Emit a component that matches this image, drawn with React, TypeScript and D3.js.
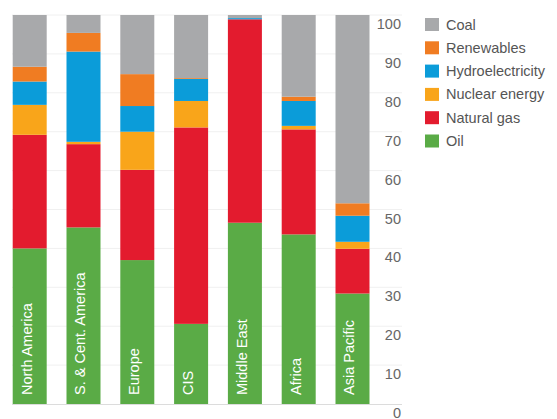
import React, { useEffect, useRef } from 'react';
import * as d3 from 'd3';

const regions = ['North America', 'S. & Cent. America', 'Europe', 'CIS', 'Middle East', 'Africa', 'Asia Pacific'];
const fuels = ['Oil', 'Natural gas', 'Nuclear energy', 'Hydroelectricity', 'Renewables', 'Coal'];

// share of primary energy consumption, % (bottom to top)
const oil = [40.0, 45.4, 37.0, 20.6, 46.6, 43.6, 28.4];
const naturalGas = [29.2, 21.4, 23.2, 50.5, 52.3, 27.0, 11.5];
const nuclear = [7.7, 0.6, 9.8, 6.8, 0.0, 0.9, 1.8];
const hydro = [6.0, 23.2, 6.6, 5.7, 0.3, 6.4, 6.7];
const renewables = [3.8, 4.8, 8.2, 0.2, 0.0, 1.1, 3.2];
const coal = [13.3, 4.6, 15.2, 16.2, 0.8, 21.0, 48.4];

const yTicks = [0, 10, 20, 30, 40, 50, 60, 70, 80, 90, 100];
const legendOrder = ['Coal', 'Renewables', 'Hydroelectricity', 'Nuclear energy', 'Natural gas', 'Oil'];

const colors: Record<string, string> = {
  'Oil': '#5aab46',
  'Natural gas': '#e31b2e',
  'Nuclear energy': '#f9a51a',
  'Hydroelectricity': '#0b9cd9',
  'Renewables': '#f07c22',
  'Coal': '#a8a9ab',
};

export default function App() {
  const svgRef = useRef<SVGSVGElement>(null);
  const width = 557;
  const height = 419;

  useEffect(() => {
    if (!svgRef.current) return;
    const svg = d3.select(svgRef.current);
    svg.selectAll('*').remove();

    const series = [oil, naturalGas, nuclear, hydro, renewables, coal];
    const table = regions.map((r, i) => {
      const row: any = { region: r };
      fuels.forEach((f, j) => (row[f] = series[j][i]));
      return row;
    });

    const stacked = d3.stack<any>().keys(fuels)(table);

    const x = d3.scaleBand()
      .domain(regions)
      .range([2.8, 379.4])
      .paddingInner(0.368)
      .paddingOuter(0.184);

    const y = d3.scaleLinear().domain([0, 100]).range([404, 15]);

    const font = '"Liberation Sans", Arial, sans-serif';

    // Grid lines
    svg.append('g')
      .selectAll('line')
      .data(yTicks.filter(t => t > 0))
      .enter()
      .append('line')
      .attr('x1', 12)
      .attr('x2', 402)
      .attr('y1', d => y(d))
      .attr('y2', d => y(d))
      .attr('stroke', '#f0f0f0')
      .attr('stroke-width', 1);

    // Bars
    svg.append('g')
      .selectAll('g')
      .data(stacked)
      .enter()
      .append('g')
      .attr('fill', d => colors[d.key])
      .selectAll('rect')
      .data(d => d)
      .enter()
      .append('rect')
      .attr('x', d => x(d.data.region) || 0)
      .attr('width', x.bandwidth())
      .attr('y', d => y(d[1]))
      .attr('height', d => Math.max(0, y(d[0]) - y(d[1])));

    // Baseline
    svg.append('line')
      .attr('x1', 12)
      .attr('x2', 402)
      .attr('y1', y(0) + 0.5)
      .attr('y2', y(0) + 0.5)
      .attr('stroke', '#dcdcdc');

    // Region labels inside bars
    svg.append('g')
      .selectAll('text')
      .data(regions)
      .enter()
      .append('text')
      .attr('transform', d => `translate(${(x(d) || 0) + 19},395) rotate(-90)`)
      .attr('fill', '#ffffff')
      .attr('font-family', font)
      .attr('font-size', 14.5)
      .text(d => d);

    // Y tick labels (hang below their line)
    svg.append('g')
      .selectAll('text')
      .data(yTicks)
      .enter()
      .append('text')
      .attr('x', 401)
      .attr('y', d => y(d) + 14)
      .attr('text-anchor', 'end')
      .attr('fill', '#666666')
      .attr('font-family', font)
      .attr('font-size', 14.5)
      .text(d => d);

    // Legend
    const legend = svg.append('g')
      .selectAll('g')
      .data(legendOrder)
      .enter()
      .append('g')
      .attr('transform', (d, i) => `translate(425,${18 + i * 23.3})`);

    legend.append('rect')
      .attr('width', 14)
      .attr('height', 13)
      .attr('fill', d => colors[d]);

    legend.append('text')
      .attr('x', 21)
      .attr('y', 11.5)
      .attr('fill', '#555555')
      .attr('font-family', font)
      .attr('font-size', 14.5)
      .text(d => d);
  }, []);

  return (
    <svg
      ref={svgRef}
      width={width}
      height={height}
      style={{ position: 'absolute', left: 0, top: 0, background: '#fff' }}
    />
  );
}
